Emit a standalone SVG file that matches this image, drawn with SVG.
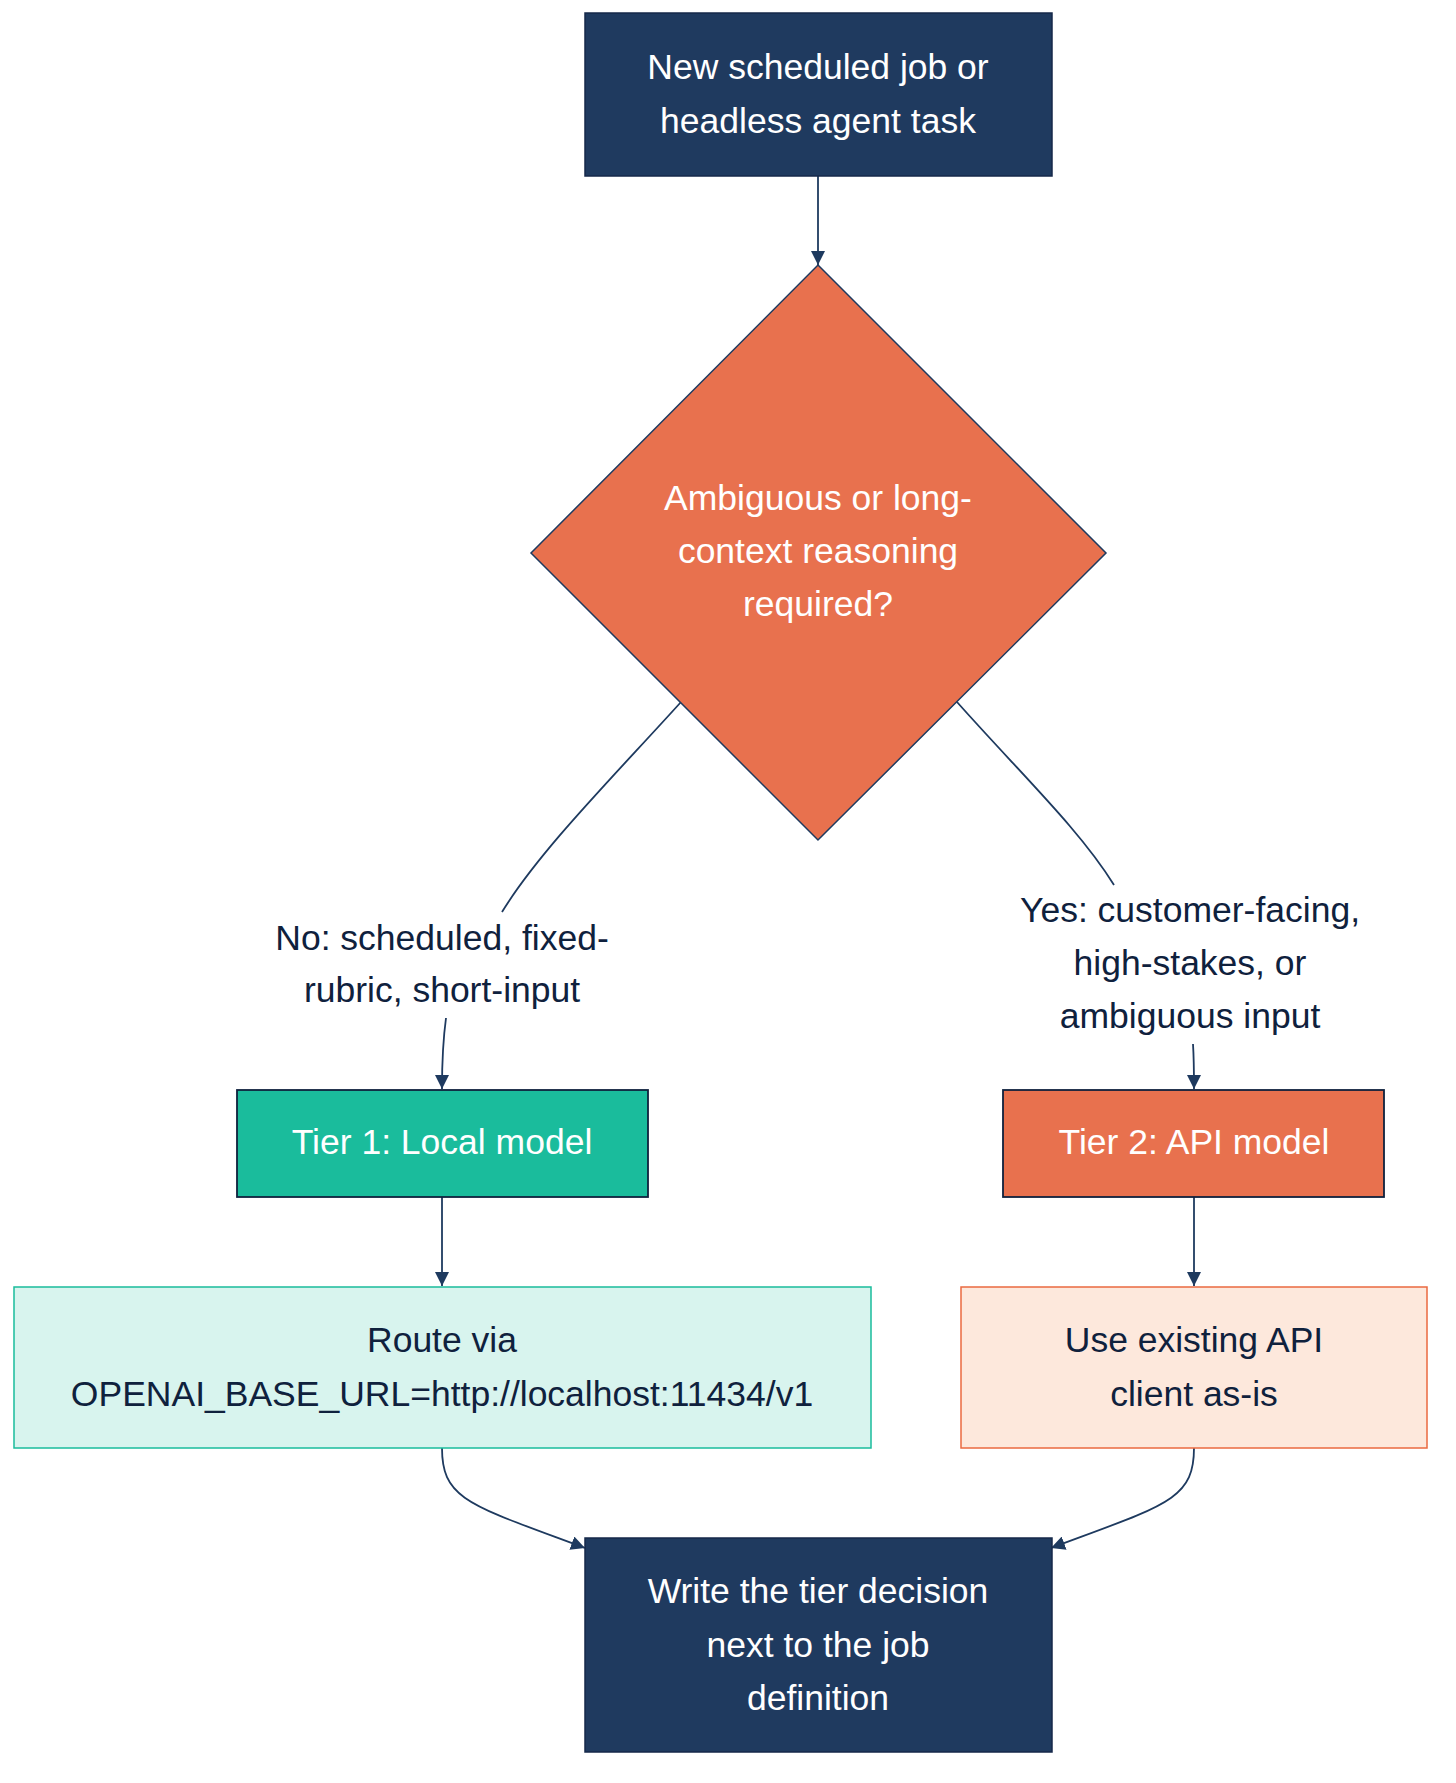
<svg xmlns="http://www.w3.org/2000/svg" width="1456" height="1783" viewBox="0 0 1456 1783">
<style>
.t{font-family:"Liberation Sans",Arial,Helvetica,sans-serif;font-size:35.5px;text-anchor:middle;dominant-baseline:central}
.w{fill:#ffffff}
.d{fill:#0f213d}
.e{fill:none;stroke:#1e3a5f;stroke-width:1.8}
</style>
<defs>
<marker id="ah" viewBox="0 0 10 10" refX="10" refY="5" markerWidth="14" markerHeight="14" markerUnits="userSpaceOnUse" orient="auto">
<path d="M0,0 L10,5 L0,10 z" fill="#1e3a5f"/>
</marker>
</defs>
<rect width="1456" height="1783" fill="#ffffff"/>
<g id="connectors">
<path class="e" d="M818,176 L818,265" marker-end="url(#ah)"/>
<path class="e" d="M681,702 C615,775 540,850 502,912"/>
<path class="e" d="M446,1018 C443,1040 442,1060 442,1089" marker-end="url(#ah)"/>
<path class="e" d="M957,702 C1022,775 1080,830 1114,885"/>
<path class="e" d="M1193,1044 C1194,1060 1194,1070 1194,1089" marker-end="url(#ah)"/>
<path class="e" d="M442,1197 L442,1286" marker-end="url(#ah)"/>
<path class="e" d="M1194,1197 L1194,1286" marker-end="url(#ah)"/>
<path class="e" d="M442,1448 C442,1500 470,1505 585,1548" marker-end="url(#ah)"/>
<path class="e" d="M1194,1448 C1194,1500 1166,1505 1051,1548" marker-end="url(#ah)"/>
</g>
<g id="label-no">
<text class="t d" x="442" y="938">No: scheduled, fixed-</text>
<text class="t d" x="442" y="990">rubric, short-input</text>
</g>
<g id="label-yes">
<text class="t d" x="1190" y="910">Yes: customer-facing,</text>
<text class="t d" x="1190" y="963">high-stakes, or</text>
<text class="t d" x="1190" y="1016">ambiguous input</text>
</g>
<g id="start">
<rect x="585" y="13" width="467" height="163" fill="#1f3a5f" stroke="#16294a" stroke-width="1.5"/>
<text class="t w" x="818" y="67">New scheduled job or</text>
<text class="t w" x="818" y="121">headless agent task</text>
</g>
<g id="decision">
<polygon points="818,265 1106,553 818,840 531,553" fill="#e8714e" stroke="#1e3a5f" stroke-width="1.5"/>
<text class="t w" x="818" y="498">Ambiguous or long-</text>
<text class="t w" x="818" y="551">context reasoning</text>
<text class="t w" x="818" y="604">required?</text>
</g>
<g id="tier1">
<rect x="237" y="1090" width="411" height="107" fill="#1abc9c" stroke="#0f213d" stroke-width="1.8"/>
<text class="t w" x="442" y="1142">Tier 1: Local model</text>
</g>
<g id="tier2">
<rect x="1003" y="1090" width="381" height="107" fill="#e8714e" stroke="#0f213d" stroke-width="1.8"/>
<text class="t w" x="1194" y="1142">Tier 2: API model</text>
</g>
<g id="route">
<rect x="14" y="1287" width="857" height="161" fill="#d8f4ee" stroke="#1abc9c" stroke-width="1.5"/>
<text class="t d" x="442" y="1340">Route via</text>
<text class="t d" x="442" y="1394">OPENAI_BASE_URL=http://localhost:11434/v1</text>
</g>
<g id="useapi">
<rect x="961" y="1287" width="466" height="161" fill="#fde8dc" stroke="#ea6a40" stroke-width="1.5"/>
<text class="t d" x="1194" y="1340">Use existing API</text>
<text class="t d" x="1194" y="1394">client as-is</text>
</g>
<g id="final">
<rect x="585" y="1538" width="467" height="214" fill="#1f3a5f" stroke="#16294a" stroke-width="1.5"/>
<text class="t w" x="818" y="1591">Write the tier decision</text>
<text class="t w" x="818" y="1645">next to the job</text>
<text class="t w" x="818" y="1698">definition</text>
</g>
</svg>
